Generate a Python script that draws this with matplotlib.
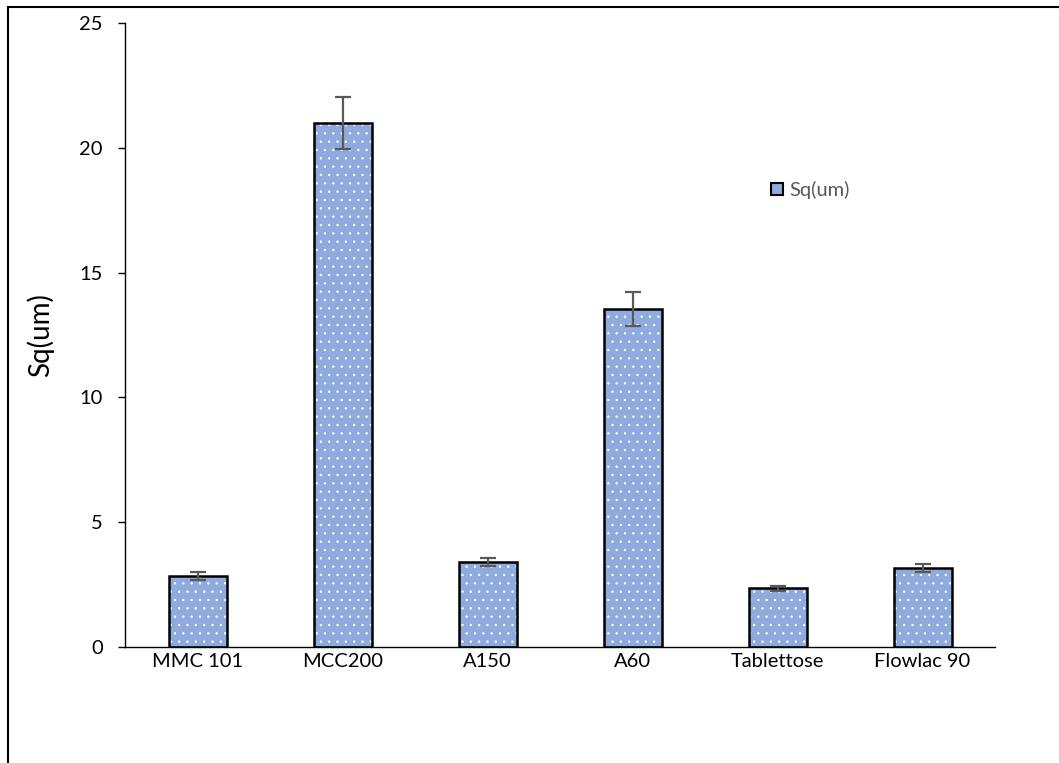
import matplotlib
matplotlib.use("Agg")
import matplotlib.pyplot as plt
from matplotlib.patches import Rectangle
from matplotlib.lines import Line2D

categories = ["MMC 101", "MCC200", "A150", "A60", "Tablettose", "Flowlac 90"]
sq_values = [2.84, 20.99, 3.41, 13.55, 2.36, 3.16]
sq_errors = [0.15, 1.04, 0.16, 0.68, 0.10, 0.15]
y_ticks = [0, 5, 10, 15, 20, 25]

plt.rcParams["font.family"] = ["Lato", "DejaVu Sans"]
plt.rcParams["hatch.linewidth"] = 0.5

fig = plt.figure(figsize=(10.59, 7.63), dpi=100)

# outer frame (left and top edges visible)
fig.add_artist(Line2D([8/1059, 8/1059], [0, 1 - 7/763], color="black", lw=1.5,
                      transform=fig.transFigure))
fig.add_artist(Line2D([8/1059, 1], [1 - 7/763, 1 - 7/763], color="black", lw=1.5,
                      transform=fig.transFigure))

ax = fig.add_axes([125/1059, 1 - 647/763, 870/1059, 624/763])
x = list(range(len(categories)))
fill = "#8FAADC"

# dotted fill, then outline on top
ax.bar(x, sq_values, width=0.4, color=fill, edgecolor="white", hatch="..",
       linewidth=0, zorder=2)
ax.bar(x, sq_values, width=0.4, facecolor="none", edgecolor="black",
       linewidth=1.8, zorder=3)
ax.errorbar(x, sq_values, yerr=sq_errors, fmt="none", ecolor="#595959",
            elinewidth=1.6, capsize=6, capthick=1.6, zorder=4)

ax.set_xlim(-0.5, len(categories) - 0.5)
ax.set_ylim(0, 25)
ax.set_yticks(y_ticks)
ax.set_xticks(x)
ax.set_xticklabels(categories)
ax.tick_params(axis="x", length=0, pad=4, labelsize=14.5)
ax.tick_params(axis="y", length=5, width=1, direction="out", pad=11, labelsize=14.5)
for s in ["top", "right"]:
    ax.spines[s].set_visible(False)
ax.spines["left"].set_linewidth(1)
ax.spines["bottom"].set_linewidth(1)
ax.set_ylabel("Sq(um)", fontsize=20, labelpad=18)

handle = Rectangle((0, 0), 1, 1, facecolor=fill, edgecolor="black", linewidth=1.5)
leg = ax.legend([handle], ["Sq(um)"], loc="center left",
                bbox_to_anchor=(628/870, 1 - (190 - 23)/624), frameon=False,
                fontsize=14.5, handlelength=0.6, handleheight=0.6, handletextpad=0.3)
for t in leg.get_texts():
    t.set_color("#595959")

fig.savefig("out.png", dpi=100)
